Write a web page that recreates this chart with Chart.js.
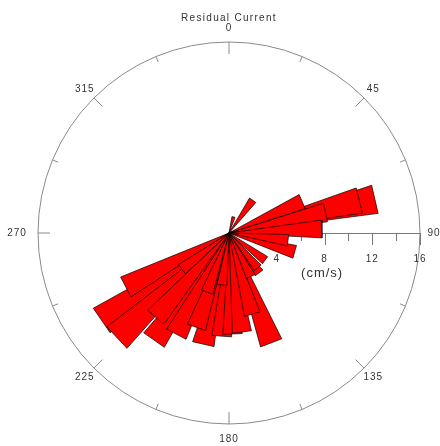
<!DOCTYPE html>
<html>
<head>
<meta charset="utf-8">
<script src="https://cdn.jsdelivr.net/npm/chart.js@4.4.1/dist/chart.umd.min.js"></script>
<style>
  html, body { margin: 0; padding: 0; background: #fff; }
  #wrap { width: 440px; height: 446px; }
</style>
</head>
<body>
<div id="wrap"><canvas id="rose" width="440" height="446"></canvas></div>
<script>
// Residual current vectors: direction (degrees clockwise from north) and speed (cm/s)
const directions = [235.5, 227, 242.4, 215, 221, 207.5, 199, 193, 184, 178, 172.6, 164, 159,
                    232.5, 200.4, 187.7, 153.4, 143, 140.4, 127, 106, 97, 87.5, 78, 77, 76, 66.8, 35.9, 15.7];
const speeds     = [13.0, 12.9, 9.8, 11.0, 9.4, 9.6, 8.4, 9.6, 8.7, 8.5, 8.4, 7.1, 9.9,
                    5.0, 5.3, 4.4, 4.1, 4.2, 3.8, 3.8, 5.75, 5.0, 7.8, 8.3, 12.6, 11.3, 6.7, 3.4, 1.4];

// Compass and speed-axis labelling
const compassTicks = [0, 45, 90, 135, 180, 225, 270, 315];
const speedTicks = [4, 8, 12, 16];
const speedMax = 16;
const sectorWidth = 11; // angular width of each bar, degrees

const rad = d => d * Math.PI / 180;

function wedge(dir, spd) {
  const a = rad(dir - sectorWidth / 2), b = rad(dir + sectorWidth / 2);
  return [
    { x: 0, y: 0 },
    { x: spd * Math.sin(a), y: spd * Math.cos(a) },
    { x: spd * Math.sin(b), y: spd * Math.cos(b) },
    { x: 0, y: 0 }
  ];
}

const datasets = directions.map((d, i) => ({
  data: wedge(d, speeds[i]),
  showLine: true,
  fill: 'shape',
  backgroundColor: '#ff0000',
  borderColor: '#000000',
  borderWidth: 0.7,
  pointRadius: 0,
  tension: 0,
  order: speeds[i]
}));

const roseFrame = {
  id: 'roseFrame',
  beforeDatasetsDraw(chart) {
    const { ctx, scales: { x, y } } = chart;
    const cx = x.getPixelForValue(0), cy = y.getPixelForValue(0);
    const R = x.getPixelForValue(speedMax) - cx;
    ctx.save();
    // outer circle
    ctx.strokeStyle = '#8a8a8a';
    ctx.lineWidth = 1;
    ctx.beginPath();
    ctx.arc(cx, cy, R, 0, Math.PI * 2);
    ctx.stroke();
    // compass ticks every 22.5 degrees, pointing inward
    for (let k = 0; k < 16; k++) {
      const d = k * 22.5;
      if (d === 90) continue;
      const len = k % 2 === 0 ? 12 : 6;
      const s = Math.sin(rad(d)), c = Math.cos(rad(d));
      ctx.beginPath();
      ctx.moveTo(cx + R * s, cy - R * c);
      ctx.lineTo(cx + (R - len) * s, cy - (R - len) * c);
      ctx.stroke();
    }
    // compass labels
    ctx.fillStyle = '#333';
    ctx.font = '10px "Liberation Sans", Arial, sans-serif';
    ctx.letterSpacing = '1px';
    ctx.textAlign = 'center';
    ctx.textBaseline = 'middle';
    compassTicks.forEach(d => {
      const lr = R + 13;
      let lx = cx + lr * Math.sin(rad(d)), ly = cy - lr * Math.cos(rad(d));
      if (d === 0) ly = cy - R - 14;
      if (d === 180) ly = cy + R + 15;
      if (d === 90) lx = cx + R + 14;
      if (d === 270) lx = cx - R - 21;
      ctx.fillText(String(d), lx, ly);
    });
    // speed axis toward east
    ctx.strokeStyle = '#777';
    ctx.beginPath();
    ctx.moveTo(cx, cy + 0.5);
    ctx.lineTo(x.getPixelForValue(speedMax), cy + 0.5);
    ctx.stroke();
    for (let v = 2; v <= speedMax; v += 2) {
      const px = Math.round(x.getPixelForValue(v)) + 0.5;
      const len = v % 4 === 0 ? 12 : 8;
      ctx.beginPath();
      ctx.moveTo(px, cy);
      ctx.lineTo(px, cy + len);
      ctx.stroke();
    }
    ctx.fillStyle = '#333';
    speedTicks.forEach(v => {
      ctx.fillText(String(v), x.getPixelForValue(v), cy + 26);
    });
    ctx.font = '13px "Liberation Sans", Arial, sans-serif';
    ctx.letterSpacing = '1px';
    ctx.fillText('(cm/s)', x.getPixelForValue(7.8), cy + 40);
    // title
    ctx.font = '10px "Liberation Sans", Arial, sans-serif';
    ctx.letterSpacing = '1.3px';
    ctx.fillText('Residual Current', cx, cy - R - 24);
    ctx.restore();
  }
};

new Chart(document.getElementById('rose'), {
  type: 'scatter',
  data: { datasets },
  options: {
    responsive: false,
    animation: false,
    devicePixelRatio: 1,
    layout: { padding: { left: 38, right: 20, top: 42, bottom: 22 } },
    scales: {
      x: { type: 'linear', min: -speedMax, max: speedMax, display: false },
      y: { type: 'linear', min: -speedMax, max: speedMax, display: false }
    },
    plugins: { legend: { display: false }, tooltip: { enabled: false } },
    elements: { line: { borderJoinStyle: 'miter' } }
  },
  plugins: [roseFrame]
});
</script>
</body>
</html>
